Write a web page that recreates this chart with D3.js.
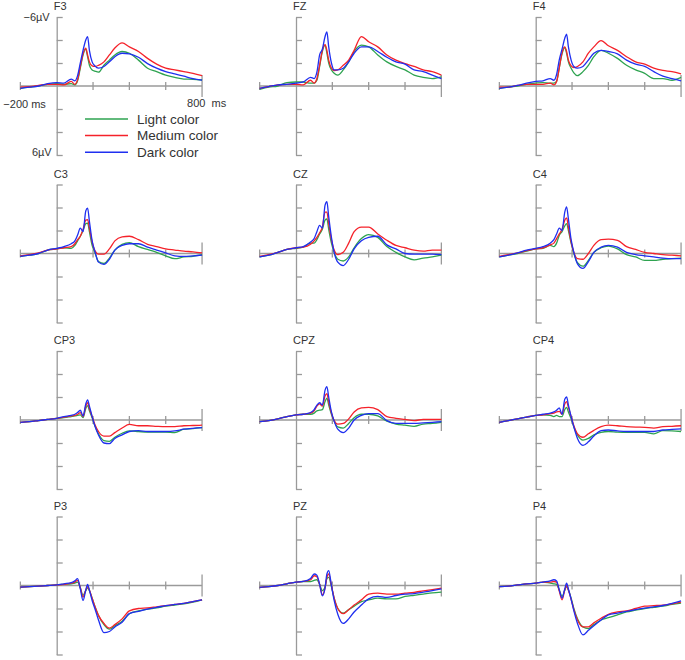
<!DOCTYPE html>
<html><head><meta charset="utf-8">
<script src="https://cdn.jsdelivr.net/npm/d3@7/dist/d3.min.js"></script>
<style>
body{margin:0;background:#fff}
svg{display:block}
text{font-family:"Liberation Sans",Arial,Helvetica,sans-serif;fill:#333}
</style>
</head><body>
<svg id="chart" width="685" height="660"></svg>
<script>
// ---- data (µV, negative plotted upward) ----
const times = [-200,-150,-100,-50,0,40,80,100,115,130,145,160,170,180,195,210,230,260,290,320,360,400,450,500,550,600,650,700,750,800];
const electrodes = ["F3","FZ","F4","C3","CZ","C4","CP3","CPZ","CP4","P3","PZ","P4"];
const seriesNames = ["Light color","Medium color","Dark color"];
const xTicks = [-200,200,400,600,800];
const yTicks = [-6,-4,-2,0,2,4,6];
const xLabels = ["\u2212200 ms","800  ms"];
const yLabels = ["\u22126\u00b5V","6\u00b5V"];

const F3_light  = [0.2,0.1,0,-0.15,-0.2,-0.15,-0.2,-0.1,-0.45,-1.55,-2.7,-3.2,-2.55,-1.8,-1.4,-1.3,-1.2,-1.8,-2.25,-2.7,-3.0,-2.85,-2.25,-1.55,-1.25,-0.95,-0.75,-0.6,-0.58,-0.52];
const F3_medium = [0.1,0.05,-0.05,-0.15,-0.15,-0.1,-0.4,-0.15,-0.55,-1.7,-2.8,-3.3,-2.7,-2.1,-1.75,-1.7,-1.8,-2.1,-2.7,-3.3,-3.75,-3.4,-3.0,-2.4,-1.9,-1.55,-1.4,-1.25,-1.1,-0.9];
const F3_dark   = [0.2,0.1,0,-0.2,-0.3,-0.25,-0.6,-0.45,-0.9,-2.0,-3.1,-4.0,-4.3,-3.1,-2.1,-1.75,-1.55,-1.7,-2.1,-2.55,-2.85,-2.8,-2.5,-1.95,-1.55,-1.25,-1.05,-0.85,-0.65,-0.52];

const FZ_light  = [0.3,0.1,0,-0.3,-0.35,-0.35,-0.25,-0.25,-0.5,-1.7,-3.0,-3.55,-2.85,-2.0,-1.4,-1.1,-0.95,-1.4,-2.1,-3.0,-3.55,-3.4,-2.7,-2.1,-1.7,-1.4,-0.95,-0.75,-0.65,-0.8];
const FZ_medium = [0.2,0.05,-0.1,-0.15,-0.15,-0.1,-0.5,-0.25,-0.65,-1.8,-3.1,-3.6,-3.1,-2.25,-1.55,-1.35,-1.4,-1.8,-2.25,-3.1,-4.3,-3.85,-3.4,-2.7,-2.25,-1.95,-1.7,-1.4,-1.25,-0.95];
const FZ_dark   = [0.2,0.05,-0.1,-0.15,-0.25,-0.35,-0.75,-0.65,-1.2,-2.7,-3.2,-4.3,-4.7,-3.4,-2.0,-1.4,-1.4,-1.55,-2.1,-2.85,-3.4,-3.4,-3.0,-2.5,-2.1,-1.9,-1.4,-1.25,-0.95,-0.65];

const F4_light  = [0.2,0.1,0,-0.15,-0.25,-0.3,-0.25,-0.25,-0.4,-1.6,-2.8,-3.35,-2.85,-2.1,-1.55,-1.15,-0.9,-1.25,-1.8,-2.55,-3.1,-2.85,-2.4,-1.8,-1.4,-1.1,-0.65,-0.65,-0.5,-0.75];
const F4_medium = [0.1,0.1,-0.05,-0.15,-0.15,-0.15,-0.25,-0.1,-0.4,-1.6,-2.9,-3.4,-3.0,-2.25,-1.75,-1.6,-1.7,-2.1,-2.85,-3.4,-3.95,-3.5,-3.1,-2.55,-2.1,-1.9,-1.55,-1.35,-1.25,-1.05];
const F4_dark   = [0.2,0.1,-0.05,-0.25,-0.4,-0.45,-0.65,-0.5,-1.0,-2.3,-3.2,-4.15,-4.5,-3.4,-2.25,-1.7,-1.55,-1.7,-2.25,-2.85,-3.1,-3.0,-2.8,-2.25,-1.9,-1.7,-1.25,-0.85,-0.65,-0.45];

const C3_light  = [0.25,0.15,0,-0.3,-0.4,-0.5,-0.45,-0.7,-1.1,-1.5,-2.0,-2.6,-2.65,-1.9,-0.7,-0.1,0.7,0.87,0.4,-0.3,-0.8,-0.95,-0.6,-0.35,-0.1,0.2,0.45,0.3,0.25,0.1];
const C3_medium = [0.2,0.1,-0.05,-0.3,-0.4,-0.5,-0.6,-0.85,-1.2,-1.5,-2.1,-2.9,-2.95,-2.2,-1.0,-0.25,0.05,0.05,-0.4,-1.1,-1.45,-1.5,-1.2,-0.8,-0.6,-0.4,-0.3,-0.2,-0.15,-0.05];
const C3_dark   = [0.25,0.15,0,-0.3,-0.45,-0.6,-0.85,-1.1,-1.6,-2.2,-1.9,-3.7,-3.95,-2.8,-1.1,-0.2,0.75,0.95,0.5,-0.3,-0.7,-0.85,-0.85,-0.55,-0.3,-0.05,0.2,0.25,0.2,0.15];

const CZ_light  = [0.3,0.15,-0.1,-0.35,-0.45,-0.55,-0.9,-0.9,-1.2,-1.7,-2.1,-2.9,-3.0,-2.1,-0.9,-0.1,0.5,0.65,0.3,-0.5,-1.3,-1.65,-1.4,-0.6,-0.1,0.3,0.55,0.4,0.3,0.15];
const CZ_medium = [0.25,0.1,-0.1,-0.35,-0.5,-0.55,-0.8,-1.1,-1.4,-1.8,-2.3,-3.6,-3.6,-2.6,-1.2,-0.3,0.1,-0.1,-0.9,-1.9,-2.3,-2.3,-1.7,-1.15,-0.7,-0.5,-0.3,-0.2,-0.3,-0.3];
const CZ_dark   = [0.3,0.15,-0.1,-0.35,-0.5,-0.6,-1.0,-1.3,-1.9,-2.45,-2.2,-4.2,-4.5,-3.2,-1.4,-0.1,0.75,1.05,0.5,-0.4,-1.1,-1.4,-1.5,-0.75,-0.4,0.0,0.05,0.05,0.05,0.1];

const C4_light  = [0.3,0.15,0,-0.2,-0.4,-0.45,-0.7,-0.6,-0.9,-1.6,-1.9,-2.4,-2.6,-2.0,-0.9,0.0,0.8,1.1,0.6,-0.1,-0.5,-0.65,-0.4,0.1,0.3,0.6,0.6,0.5,0.45,0.4];
const C4_medium = [0.25,0.1,-0.05,-0.25,-0.4,-0.5,-0.75,-0.9,-1.3,-1.7,-2.1,-2.9,-3.1,-2.3,-1.0,-0.1,0.45,0.5,0.0,-0.7,-1.2,-1.25,-1.15,-0.6,-0.35,-0.1,0.0,0.1,0.15,0.2];
const C4_dark   = [0.3,0.15,-0.05,-0.3,-0.45,-0.6,-0.9,-1.2,-1.7,-2.2,-2.0,-3.6,-4.05,-3.0,-1.2,-0.1,0.9,1.3,0.7,-0.1,-0.55,-0.7,-0.55,-0.1,0.1,0.2,0.3,0.4,0.45,0.45];

const CP3_light  = [0.2,0.15,0.05,-0.05,-0.15,-0.2,-0.3,-0.35,-0.4,-0.45,-0.2,-1.0,-1.25,-0.8,-0.2,0.5,1.2,1.8,1.85,1.5,1.15,0.95,1.0,1.05,1.05,1.05,1.1,0.8,0.75,0.67];
const CP3_medium = [0.2,0.15,0.05,-0.05,-0.15,-0.25,-0.35,-0.4,-0.5,-0.65,-0.3,-1.2,-1.5,-1.0,-0.3,0.4,1.0,1.4,1.4,1.1,0.7,0.38,0.5,0.5,0.55,0.58,0.58,0.5,0.48,0.45];
const CP3_dark   = [0.2,0.15,0.05,-0.05,-0.15,-0.3,-0.4,-0.5,-0.65,-0.85,-0.35,-1.4,-1.75,-1.2,-0.3,0.5,1.3,2.0,2.05,1.6,1.3,1.0,0.93,1.0,1.0,1.0,0.95,0.8,0.72,0.67];

const CPZ_light  = [0.15,0.05,-0.1,-0.3,-0.45,-0.5,-0.5,-0.6,-0.8,-0.85,-0.9,-1.6,-1.9,-1.3,-0.5,0.1,0.6,0.7,0.3,-0.2,-0.5,-0.5,-0.35,0.1,0.35,0.45,0.55,0.35,0.3,0.2];
const CPZ_medium = [0.15,0.05,-0.1,-0.3,-0.45,-0.5,-0.6,-0.8,-1.2,-1.4,-1.2,-2.1,-2.3,-1.6,-0.6,0.05,0.35,0.3,-0.1,-0.7,-1.05,-1.1,-0.9,-0.3,-0.15,-0.05,0.05,-0.05,-0.05,-0.05];
const CPZ_dark   = [0.15,0.05,-0.1,-0.3,-0.45,-0.5,-0.65,-0.9,-1.3,-1.5,-1.3,-2.6,-2.9,-2.0,-0.7,0.1,0.8,1.1,0.7,0.0,-0.4,-0.55,-0.55,0.05,0.3,0.3,0.3,0.25,0.2,0.15];

const CP4_light  = [0.2,0.05,-0.1,-0.25,-0.4,-0.45,-0.4,-0.3,-0.4,-0.3,-0.3,-0.9,-1.1,-0.7,-0.1,0.6,1.3,1.75,1.6,1.3,1.07,1.0,1.05,1.07,1.07,1.07,1.2,0.93,0.95,1.0];
const CP4_medium = [0.2,0.05,-0.1,-0.25,-0.4,-0.45,-0.55,-0.6,-0.7,-0.75,-0.5,-1.4,-1.6,-1.1,-0.3,0.5,1.2,1.5,1.2,0.9,0.58,0.45,0.5,0.58,0.62,0.64,0.7,0.58,0.55,0.5];
const CP4_dark   = [0.2,0.05,-0.1,-0.25,-0.4,-0.5,-0.6,-0.7,-0.85,-1.05,-0.5,-1.8,-2.0,-1.3,-0.3,0.6,1.6,2.2,1.9,1.4,0.93,0.87,0.95,1.0,1.0,1.0,1.0,0.87,0.82,0.78];

const P3_light  = [0.15,0.1,0.05,0.0,-0.05,-0.1,-0.15,-0.2,-0.3,0.2,0.85,0.45,0.2,0.45,1.1,1.8,2.6,3.4,3.8,3.5,3.1,2.45,2.2,2.05,1.95,1.8,1.7,1.6,1.45,1.25];
const P3_medium = [0.15,0.1,0.05,0.0,-0.05,-0.1,-0.2,-0.3,-0.45,0.2,1.0,0.4,0.1,0.4,1.1,1.8,2.6,3.3,3.7,3.4,2.9,2.2,2.0,1.95,1.85,1.75,1.65,1.55,1.4,1.25];
const P3_dark   = [0.15,0.1,0.05,0.0,-0.05,-0.15,-0.25,-0.4,-0.6,0.3,1.3,0.4,-0.1,0.4,1.3,2.0,3.0,4.1,4.0,3.6,3.2,2.45,2.25,2.05,1.9,1.75,1.65,1.55,1.4,1.25];

const PZ_light  = [0.17,0.1,0.0,-0.15,-0.3,-0.35,-0.35,-0.45,-0.5,-0.1,0.45,0.1,-0.6,-0.7,0.1,1.1,2.0,2.4,2.1,1.8,1.4,1.25,1.1,1.16,1.16,0.95,0.85,0.75,0.65,0.58];
const PZ_medium = [0.17,0.1,0.0,-0.15,-0.3,-0.35,-0.5,-0.85,-0.75,-0.1,0.8,0.2,-0.7,-1.0,0.0,1.1,2.0,2.45,2.1,1.7,1.25,0.75,0.67,0.75,0.75,0.67,0.6,0.46,0.35,0.23];
const PZ_dark   = [0.17,0.1,0.0,-0.15,-0.3,-0.35,-0.6,-1.0,-0.9,-0.1,0.9,0.2,-1.0,-1.3,0.0,1.3,2.5,3.3,2.9,2.3,1.7,1.16,0.95,1.04,0.87,0.75,0.7,0.58,0.45,0.3];

const P4_light  = [0.1,0.05,-0.05,-0.15,-0.2,-0.3,-0.2,-0.15,-0.1,0.4,0.95,0.4,0.1,0.4,1.1,2.0,2.9,3.6,3.75,3.4,3.0,2.8,2.55,2.3,2.15,2.0,1.9,1.8,1.65,1.54];
const P4_medium = [0.1,0.05,-0.05,-0.15,-0.2,-0.3,-0.3,-0.35,-0.3,0.5,1.25,0.4,0.0,0.4,1.2,2.1,3.0,3.6,3.6,3.25,2.85,2.5,2.3,2.2,2.0,1.8,1.75,1.7,1.6,1.45];
const P4_dark   = [0.1,0.05,-0.05,-0.15,-0.2,-0.3,-0.4,-0.5,-0.4,0.4,1.1,0.3,-0.2,0.3,1.2,2.2,3.3,4.3,3.9,3.5,3.0,2.55,2.4,2.25,2.1,1.97,1.85,1.74,1.55,1.33];

const waves = {
  F3:[F3_light,F3_medium,F3_dark], FZ:[FZ_light,FZ_medium,FZ_dark], F4:[F4_light,F4_medium,F4_dark],
  C3:[C3_light,C3_medium,C3_dark], CZ:[CZ_light,CZ_medium,CZ_dark], C4:[C4_light,C4_medium,C4_dark],
  CP3:[CP3_light,CP3_medium,CP3_dark], CPZ:[CPZ_light,CPZ_medium,CPZ_dark], CP4:[CP4_light,CP4_medium,CP4_dark],
  P3:[P3_light,P3_medium,P3_dark], PZ:[PZ_light,PZ_medium,PZ_dark], P4:[P4_light,P4_medium,P4_dark]
};

// ---- layout / style ----
const colors = ["#2ea350","#f5222a","#1f2ff0"];
const axisColor = "#9a9a9a";
const colX = [56.7, 296, 535.7];     // x of the 0 ms vertical axis
const rowY = [86, 253.5, 420, 585.5]; // y of the 0 µV line
const pxPer200 = 36.34;
const halfY = 69;

const svg = d3.select("#chart");

electrodes.forEach((name, i) => {
  const ax = colX[i % 3], zy = rowY[Math.floor(i / 3)];
  const x = d3.scaleLinear().domain([-200, 800]).range([ax - pxPer200, ax + 4 * pxPer200]);
  const y = d3.scaleLinear().domain([-6, 6]).range([zy - halfY, zy + halfY]);
  const g = svg.append("g");

  // y axis (vertical at 0 ms), ticks to the right
  const yAxis = d3.axisRight(y).tickValues(yTicks).tickSize(6).tickSizeOuter(0).tickFormat("");
  const ya = g.append("g").attr("transform", `translate(${x(0)},0)`).call(yAxis);
  ya.selectAll("path,line").attr("stroke", axisColor).attr("stroke-width", 1.3);
  ya.select(".tick:nth-child(5)").remove(); // no tick mark on the 0 line itself (the x axis covers it)

  // x axis at 0 µV
  g.append("line").attr("x1", x(-200)).attr("x2", x(800)).attr("y1", y(0)).attr("y2", y(0))
    .attr("stroke", axisColor).attr("stroke-width", 1.3);
  g.selectAll("line.xt").data(xTicks).join("line").attr("class", "xt")
    .attr("x1", d => x(d)).attr("x2", d => x(d))
    .attr("y1", d => y(0) - (d === 800 ? 11 : 4)).attr("y2", d => y(0) + (d === 800 ? 11 : 4))
    .attr("stroke", axisColor).attr("stroke-width", 1.3);

  // electrode name
  g.append("text").attr("x", x(0) - 3).attr("y", y(-6) - 7).attr("font-size", 11).text(name);

  // waveforms
  const line = d3.line().x((d, k) => x(times[k])).y(d => y(d)).curve(d3.curveMonotoneX);
  waves[name].forEach((vals, s) => {
    g.append("path").attr("d", line(vals)).attr("fill", "none")
      .attr("stroke", colors[s]).attr("stroke-width", 1.3).attr("stroke-linejoin", "round");
  });

  if (i === 0) {
    g.append("text").attr("x", x(0) - 7).attr("y", y(-6) + 4).attr("text-anchor", "end").attr("font-size", 11).text(yLabels[0]);
    g.append("text").attr("x", x(0) - 5).attr("y", y(6) + 1).attr("text-anchor", "end").attr("font-size", 11).text(yLabels[1]);
    g.append("text").attr("x", x(-200) - 17).attr("y", y(0) + 22).attr("font-size", 11).text(xLabels[0]);
    g.append("text").attr("x", x(800) - 15).attr("y", y(0) + 21).attr("font-size", 11).attr("xml:space", "preserve").style("white-space", "pre").text(xLabels[1]);
    // legend
    const lg = g.append("g");
    seriesNames.forEach((n, s) => {
      const ly = y(0) + 33 + s * 16.6;
      lg.append("line").attr("x1", 85).attr("x2", 128).attr("y1", ly).attr("y2", ly)
        .attr("stroke", colors[s]).attr("stroke-width", 1.5);
      lg.append("text").attr("x", 137).attr("y", ly + 4.5).attr("font-size", 13.5).text(n);
    });
  }
});
</script>
</body></html>
